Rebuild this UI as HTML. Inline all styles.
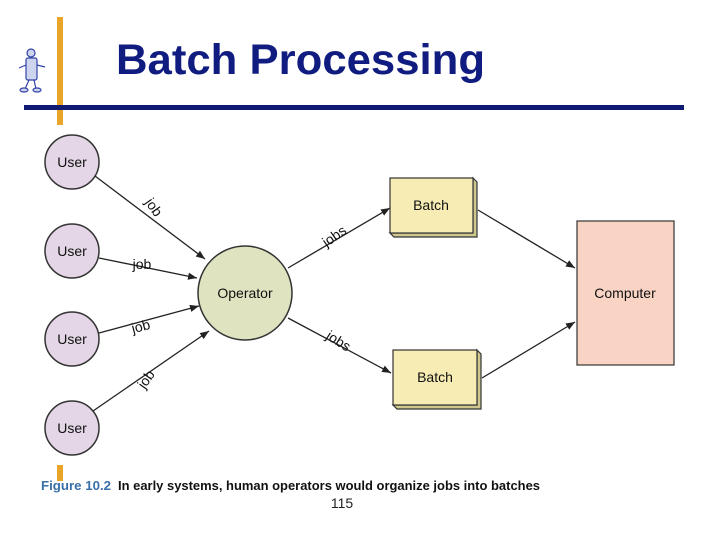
<!DOCTYPE html>
<html><head><meta charset="utf-8"><style>
html,body{margin:0;padding:0;background:#fff;}
svg{display:block;font-family:"Liberation Sans",Arial,sans-serif;}
</style></head><body>
<svg width="720" height="540" viewBox="0 0 720 540" xmlns="http://www.w3.org/2000/svg">
<defs>
<marker id="a" viewBox="0 0 10 10" refX="10" refY="5" markerWidth="9" markerHeight="9" markerUnits="userSpaceOnUse" orient="auto"><path d="M0,1 L10,5 L0,9 z" fill="#222"/></marker>
</defs>
<rect x="57" y="17" width="6" height="108" fill="#e8a52a"/>
<rect x="57" y="465" width="6" height="16" fill="#e8a52a"/>
<rect x="24" y="105" width="660" height="5" fill="#0f1a72"/>
<text x="116" y="74" font-size="43" font-weight="bold" fill="#101c80" textLength="369" lengthAdjust="spacingAndGlyphs">Batch Processing</text>
<g stroke="#3344aa" stroke-width="1.2" fill="#ccd4ee">
<circle cx="31" cy="53" r="4"/>
<rect x="26" y="58" width="11" height="22" rx="2"/>
<path d="M26 65 L19 68 M37 65 L45 67 M29 80 L25 89 M34 80 L36 89" fill="none"/>
<ellipse cx="24" cy="90" rx="4" ry="2"/><ellipse cx="37" cy="90" rx="4" ry="2"/>
</g>
<g stroke="#333" stroke-width="1.5" fill="#e4d6e6">
<circle cx="72" cy="162" r="27"/><circle cx="72" cy="251" r="27"/>
<circle cx="72" cy="339" r="27"/><circle cx="72" cy="428" r="27"/>
</g>
<circle cx="245" cy="293" r="47" fill="#dfe3c0" stroke="#333" stroke-width="1.5"/>
<g font-size="14" fill="#111" text-anchor="middle">
<text x="72" y="167">User</text><text x="72" y="256">User</text>
<text x="72" y="344">User</text><text x="72" y="433">User</text>
<text x="245" y="298">Operator</text>
</g>
<g stroke="#333" stroke-width="1.2">
<path d="M473 178 L477 182 L477 237 L394 237 L390 233 L473 233 Z" fill="#cfc78e"/>
<rect x="390" y="178" width="83" height="55" fill="#f6ecb4"/>
<path d="M477 350 L481 354 L481 409 L397 409 L393 405 L477 405 Z" fill="#cfc78e"/>
<rect x="393" y="350" width="84" height="55" fill="#f6ecb4"/>
</g>
<rect x="577" y="221" width="97" height="144" fill="#f9d4c4" stroke="#333" stroke-width="1.2"/>
<g font-size="14" fill="#111" text-anchor="middle">
<text x="431" y="210">Batch</text><text x="435" y="382">Batch</text>
<text x="625" y="298">Computer</text>
</g>
<g stroke="#222" stroke-width="1.3" fill="none" marker-end="url(#a)">
<line x1="95" y1="176" x2="205" y2="259"/>
<line x1="99" y1="258" x2="197" y2="278"/>
<line x1="99" y1="333" x2="199" y2="306"/>
<line x1="93" y1="411" x2="209" y2="331"/>
<line x1="288" y1="268" x2="390" y2="208"/>
<line x1="288" y1="318" x2="391" y2="373"/>
<line x1="478" y1="210" x2="575" y2="268"/>
<line x1="482" y1="378" x2="575" y2="322"/>
</g>
<g font-size="14" fill="#111" text-anchor="middle">
<text transform="translate(150,210) rotate(55)">job</text>
<text x="142" y="269">job</text>
<text transform="translate(142,331) rotate(-15)">job</text>
<text transform="translate(150,382) rotate(-55)">job</text>
<text transform="translate(337,240) rotate(-35)">jobs</text>
<text transform="translate(336,345) rotate(32)">jobs</text>
</g>
<text x="41" y="490" font-size="12.5" font-weight="bold" fill="#3a6fa8" textLength="70" lengthAdjust="spacingAndGlyphs">Figure 10.2</text>
<text x="118" y="490" font-size="12.5" font-weight="bold" fill="#111" textLength="422" lengthAdjust="spacingAndGlyphs">In early systems, human operators would organize jobs into batches</text>
<text x="342" y="508" font-size="14" fill="#222" text-anchor="middle">115</text>
</svg>
</body></html>
